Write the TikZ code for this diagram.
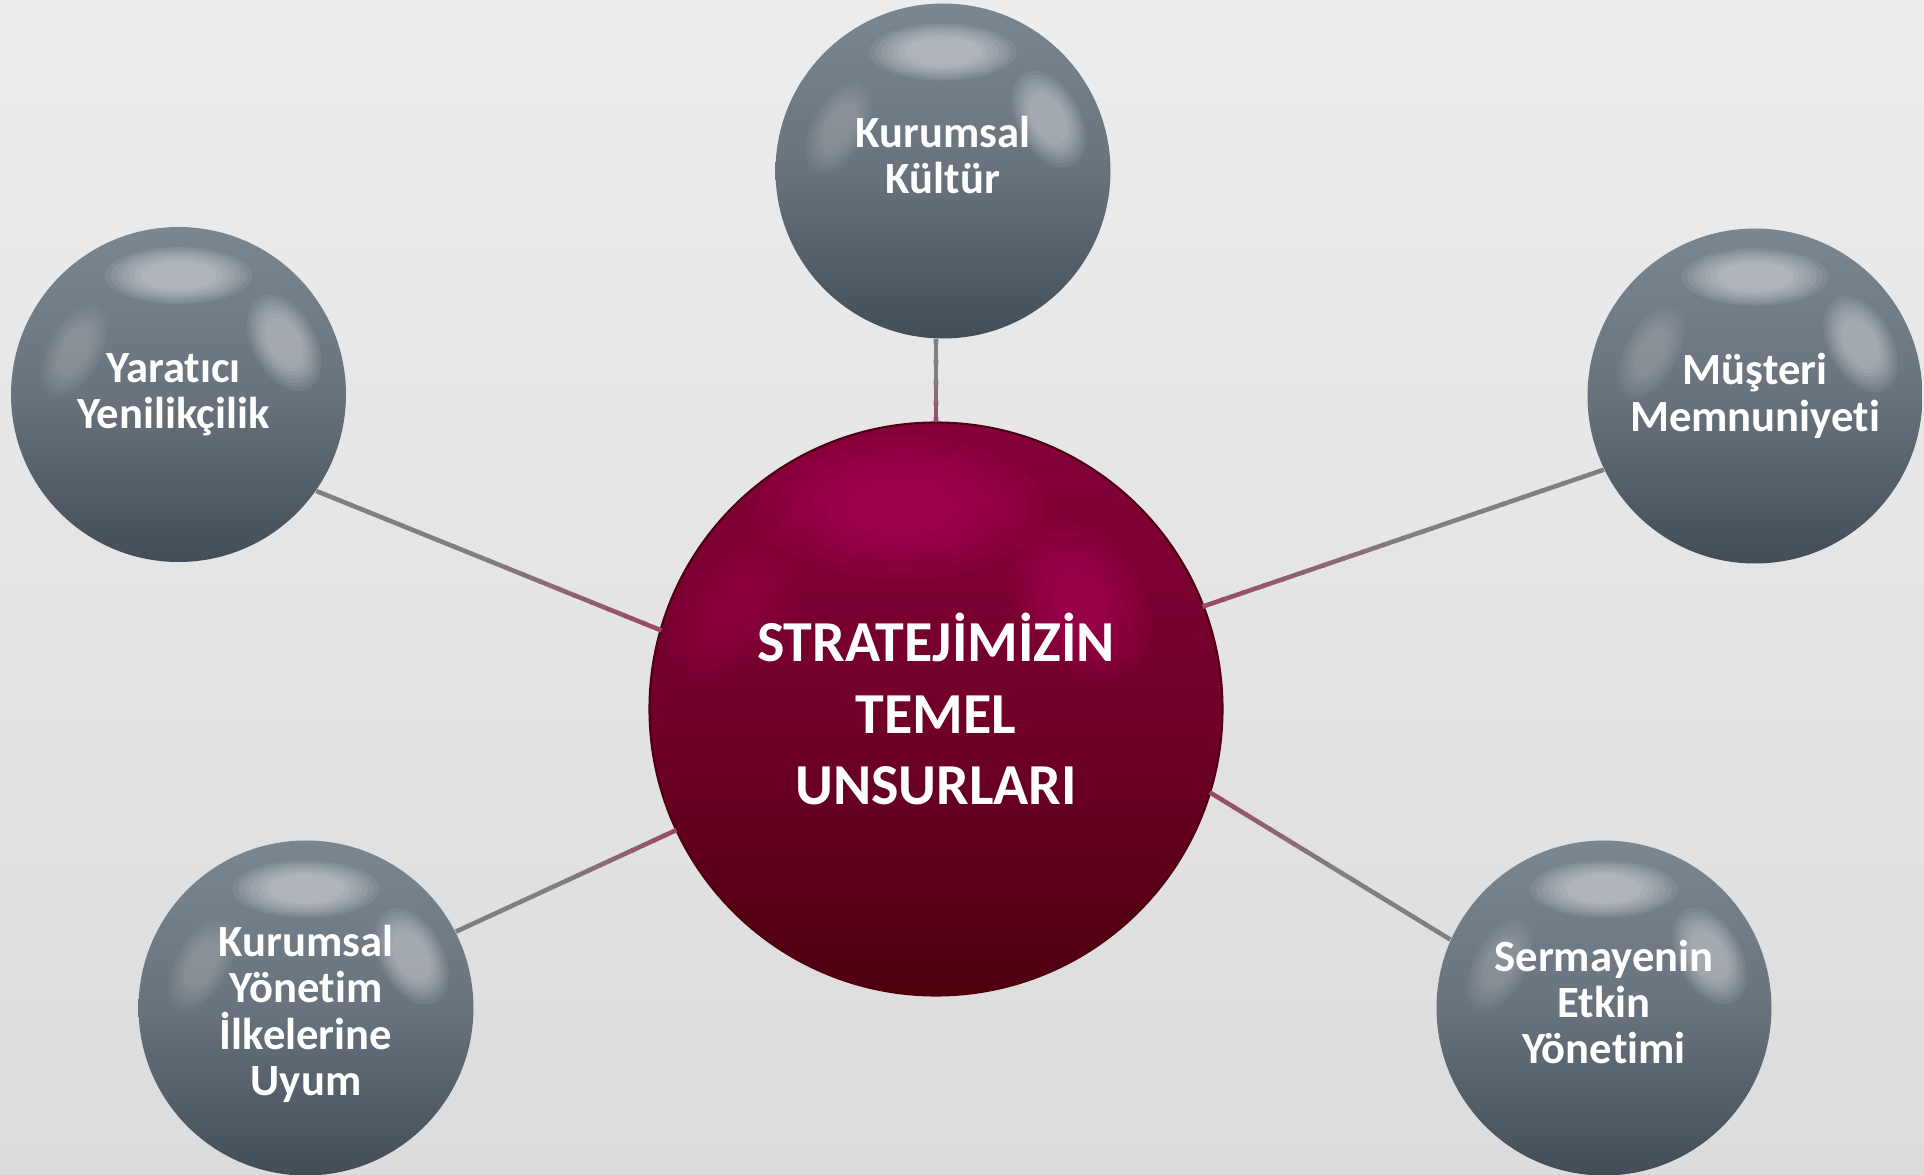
\documentclass[tikz,border=0pt]{standalone}
\usepackage{fontspec}
\setmainfont[Ligatures=NoCommon]{Carlito}
\usetikzlibrary{calc}

\definecolor{bgtop}{HTML}{EDEDED}
\definecolor{bgbot}{HTML}{DCDCDC}
\definecolor{grayA}{HTML}{7A8690}
\definecolor{grayB}{HTML}{68737D}
\definecolor{grayC}{HTML}{434D57}
\definecolor{redA}{HTML}{86003A}
\definecolor{redB}{HTML}{72002A}
\definecolor{redC}{HTML}{4E000E}
\definecolor{glowred}{HTML}{C0006A}
\definecolor{linkgray}{HTML}{808080}
\definecolor{linkred}{HTML}{9C4565}

\tikzset{
  grayball/.style={circle, inner sep=0pt, minimum size=3.35cm,
    top color=grayA, bottom color=grayC, middle color=grayB},
  coreball/.style={circle, inner sep=0pt, minimum size=5.73cm,
    top color=redA, bottom color=redC, middle color=redB, draw=redC, line width=0.6pt},
  balltext/.style={text=white, align=center, inner sep=0pt, font=\bfseries\fontsize{12.7}{13.2}\selectfont},
  coretext/.style={balltext, font=\bfseries\fontsize{16.5}{20.3}\selectfont},
  linkline/.style={line width=1.3pt, line cap=butt},
}

% glossy highlights on a ball of radius #2 (in cm)
\newcommand{\gloss}[3]{%
  \begin{scope}[shift={(#1.center)}, x=#2 cm, y=#2 cm]
    \foreach \s in {1,0.92,0.84,0.76,0.68,0.6,0.52}{
      \fill[#3, fill opacity=0.08] (0,0.71) ellipse ({0.44*\s} and {0.17*\s});
      \fill[#3, fill opacity=0.065, rotate around={28:(0.63,0.31)}] (0.63,0.31) ellipse ({0.19*\s} and {0.31*\s});
      \fill[#3, fill opacity=0.03, rotate around={-28:(-0.62,0.26)}] (-0.62,0.26) ellipse ({0.16*\s} and {0.30*\s});
    }
  \end{scope}}

% gradient connector: grey at the outer ball, mauve at the centre
\newcommand{\gradlink}[2]{%
  \foreach \k in {0,...,19}{
    \pgfmathtruncatemacro{\pc}{max(0,(\k/20-0.45)/0.55*100)}
    \draw[linkline, linkred!\pc!linkgray] ($(#1)!\k/20!(#2)$) -- ($(#1)!\k/20+0.055!(#2)$);
  }}

\begin{document}
\begin{tikzpicture}

  % Background
  \clip (0,0) rectangle (19.24,11.74);
  \shade[top color=bgtop, bottom color=bgbot] (0,0) rectangle (19.24,11.74);

  % Centre ball
  \node[coreball] (core) at (9.36,4.65) {};
  \begin{scope}[shift={(core.center)}, x=2.865cm, y=2.865cm]
    \foreach \s in {1,0.88,0.76,0.64,0.52,0.4}{
      \fill[glowred, fill opacity=0.10] (-0.12,0.70) ellipse ({0.50*\s} and {0.25*\s});
      \fill[glowred, fill opacity=0.09, rotate around={35:(0.50,0.38)}] (0.50,0.38) ellipse ({0.22*\s} and {0.30*\s});
      \fill[glowred, fill opacity=0.05, rotate around={-35:(-0.70,0.35)}] (-0.70,0.35) ellipse ({0.17*\s} and {0.32*\s});
    }
  \end{scope}
  \node[coretext] (core-text) at (core) {STRATEJİMİZİN\\TEMEL\\UNSURLARI};

  % Outer balls
  \node[grayball] (kultur) at (9.43,10.03) {};
  \node[grayball] (yaratici) at (1.785,7.795) {};
  \node[grayball] (musteri) at (17.55,7.78) {};
  \node[grayball] (uyum) at (3.06,1.66) {};
  \node[grayball] (sermaye) at (16.04,1.66) {};
  \foreach \b in {kultur,yaratici,musteri,uyum,sermaye}
    \gloss{\b}{1.675}{white};

  \node[balltext] (kultur-text) at ([yshift=0.16cm]kultur) {Kurumsal\\Kültür};
  \node[balltext] (yaratici-text) at ([xshift=-0.05cm]yaratici) {Yaratıcı\\Yenilikçilik};
  \node[balltext] (musteri-text) at (musteri) {Müşteri\\Memnuniyeti};
  \node[balltext] (uyum-text) at ([yshift=-0.06cm]uyum) {Kurumsal\\Yönetim\\İlkelerine\\Uyum};
  \node[balltext] (sermaye-text) at ([yshift=0.06cm]sermaye) {Sermayenin\\Etkin\\Yönetimi};

  % Connectors
  \coordinate (kultur-end) at (core.north |- kultur.south);
  \gradlink{kultur-end}{core.north}
  \gradlink{yaratici.-35}{core.164}
  \gradlink{musteri.206}{core.21}
  \gradlink{uyum.27}{core.205}
  \gradlink{sermaye.156}{core.-17}

\end{tikzpicture}
\end{document}
